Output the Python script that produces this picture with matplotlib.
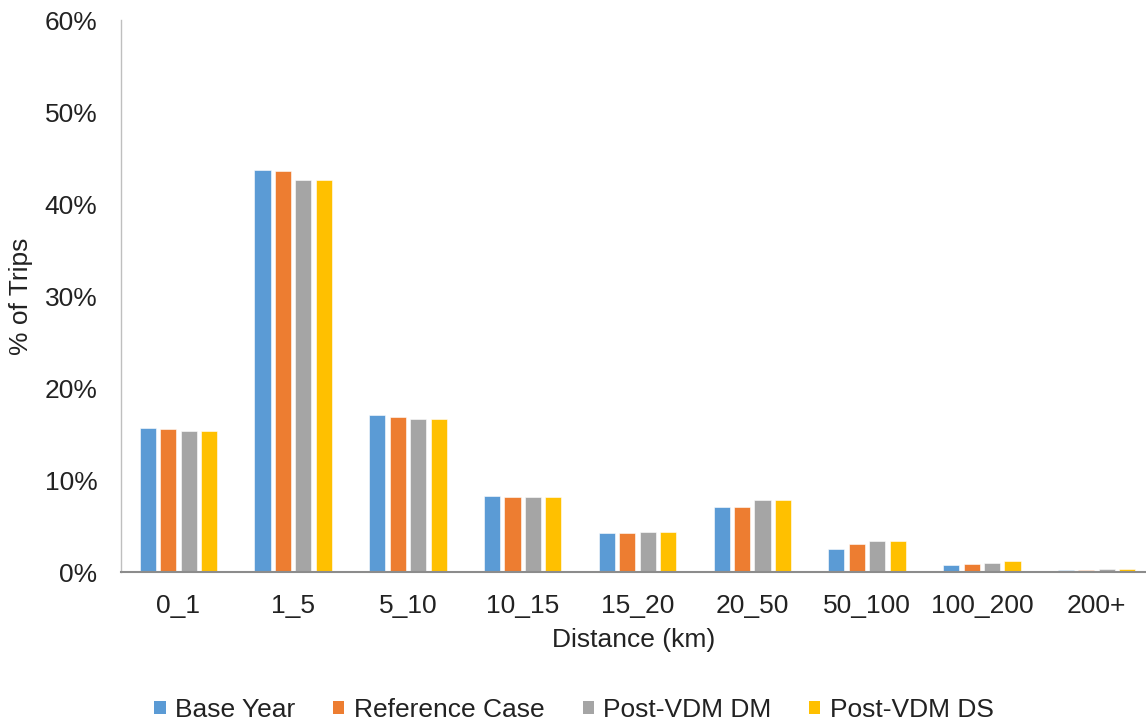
import matplotlib
matplotlib.use("Agg")
import matplotlib.pyplot as plt
import numpy as np
from matplotlib.patches import Patch
from matplotlib.ticker import FuncFormatter

plt.rcParams['font.family'] = ['Liberation Sans', 'DejaVu Sans']

categories = ["0_1", "1_5", "5_10", "10_15", "15_20", "20_50", "50_100", "100_200", "200+"]
series_names = ["Base Year", "Reference Case", "Post-VDM DM", "Post-VDM DS"]
base_year = [15.65, 43.7, 17.05, 8.3, 4.2, 7.1, 2.55, 0.73, 0.22]
reference_case = [15.5, 43.55, 16.9, 8.2, 4.2, 7.1, 3.0, 0.87, 0.2]
post_vdm_dm = [15.35, 42.6, 16.6, 8.2, 4.35, 7.8, 3.4, 1.02, 0.33]
post_vdm_ds = [15.35, 42.6, 16.6, 8.2, 4.35, 7.8, 3.4, 1.16, 0.33]
colors = ["#5B9BD5", "#ED7D31", "#A5A5A5", "#FFC000"]

W, H = 1146, 727
fig = plt.figure(figsize=(W / 100, H / 100), dpi=100)
ax = fig.add_axes([121 / W, 1 - 572 / H, (1146 - 121) / W, (572 - 20) / H])

x = np.arange(len(categories))
step = 0.178
width = 0.14
all_series = [base_year, reference_case, post_vdm_dm, post_vdm_ds]
for i, (vals, col) in enumerate(zip(all_series, colors)):
    ax.bar(x + (i - 1.5) * step, vals, width=width, color=col,
           edgecolor="white", linewidth=0.4, zorder=2)

ax.set_xlim(-0.5, 8.43)
ax.set_ylim(0, 60)
ax.set_yticks(np.arange(0, 61, 10))
ax.yaxis.set_major_formatter(FuncFormatter(lambda v, p: f"{v:.0f}%"))
ax.set_xticks(x)
ax.set_xticklabels(categories)

fs = 19
ax.tick_params(axis="both", length=0, labelsize=fs, colors="#222222")
ax.tick_params(axis="x", pad=16)
ax.tick_params(axis="y", pad=17)

for s in ["top", "right"]:
    ax.spines[s].set_visible(False)
ax.spines["left"].set_color("#BFBFBF")
ax.spines["left"].set_linewidth(1.0)
ax.spines["bottom"].set_color("#8C8C8C")
ax.spines["bottom"].set_linewidth(1.5)

ax.set_xlabel("Distance (km)", fontsize=fs, color="#222222", labelpad=7)
ax.set_ylabel("% of Trips", fontsize=fs, color="#222222", labelpad=8)

handles = [Patch(facecolor=c, edgecolor="none", label=n) for c, n in zip(colors, series_names)]
fig.legend(handles=handles, loc="center", bbox_to_anchor=(574 / W, 1 - 710 / H),
           ncol=4, frameon=False, fontsize=fs, handlelength=0.42, handleheight=0.42,
           handletextpad=0.35, columnspacing=1.45, labelcolor="#222222")

fig.savefig("out.png", dpi=100)
